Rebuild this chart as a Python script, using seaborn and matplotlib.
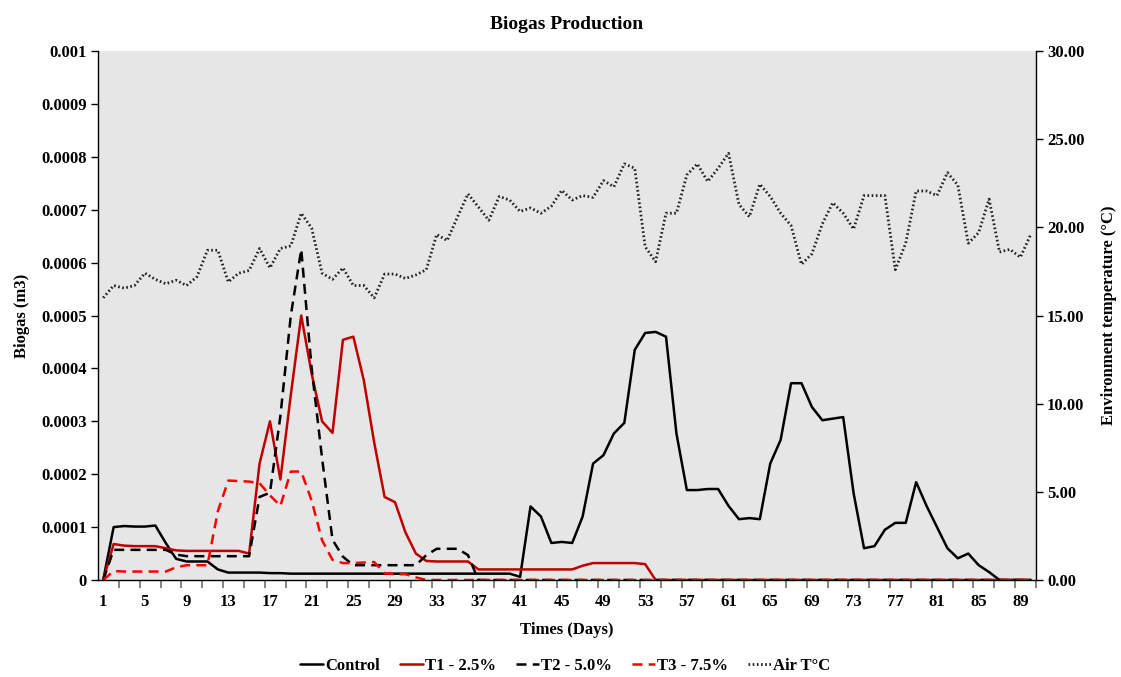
# Biogas production vs air temperature, Excel-style chart
import numpy as np
import pandas as pd
import matplotlib
matplotlib.use("Agg")
import matplotlib.pyplot as plt
from matplotlib.ticker import FixedLocator
from matplotlib.lines import Line2D
import seaborn as sns

days = list(range(1, 91))

# biogas values in units of 1e-4 m3
control = [0, 1.00, 1.02, 1.01, 1.01, 1.03, 0.70, 0.40, 0.35, 0.35,
           0.35, 0.20, 0.14, 0.14, 0.14, 0.14, 0.13, 0.13, 0.12, 0.12,
           0.12, 0.12, 0.12, 0.12, 0.12, 0.12, 0.12, 0.12, 0.12, 0.12,
           0.12, 0.12, 0.12, 0.12, 0.12, 0.12, 0.12, 0.12, 0.12, 0.12,
           0.06, 1.39, 1.20, 0.70, 0.72, 0.70, 1.20, 2.20, 2.36, 2.77,
           2.97, 4.35, 4.67, 4.69, 4.60, 2.77, 1.70, 1.70, 1.72, 1.72,
           1.40, 1.15, 1.17, 1.15, 2.20, 2.65, 3.72, 3.72, 3.27, 3.02,
           3.05, 3.08, 1.64, 0.60, 0.64, 0.95, 1.08, 1.08, 1.85, 1.40,
           1.00, 0.60, 0.41, 0.50, 0.28, 0.15, 0, 0, 0, 0]
t1 = [0, 0.68, 0.65, 0.64, 0.64, 0.64, 0.60, 0.56, 0.55, 0.55,
      0.55, 0.55, 0.55, 0.55, 0.50, 2.20, 3.00, 1.90, 3.50, 5.00,
      3.90, 3.00, 2.78, 4.54, 4.60, 3.78, 2.60, 1.57, 1.47, 0.90,
      0.50, 0.36, 0.35, 0.35, 0.35, 0.35, 0.20, 0.20, 0.20, 0.20,
      0.20, 0.20, 0.20, 0.20, 0.20, 0.20, 0.27, 0.32, 0.32, 0.32,
      0.32, 0.32, 0.30] + [0] * 37
t2 = [0, 0.57, 0.57, 0.57, 0.57, 0.57, 0.57, 0.48, 0.45, 0.45,
      0.45, 0.45, 0.45, 0.45, 0.45, 1.57, 1.65, 3.10, 5.00, 6.25,
      4.00, 2.30, 0.76, 0.44, 0.28, 0.28, 0.28, 0.28, 0.28, 0.28,
      0.28, 0.47, 0.59, 0.59, 0.59, 0.47] + [0] * 54
t3 = [0, 0.17, 0.16, 0.16, 0.16, 0.16, 0.16, 0.24, 0.28, 0.28,
      0.28, 1.30, 1.88, 1.87, 1.86, 1.83, 1.60, 1.40, 2.05, 2.05,
      1.50, 0.75, 0.38, 0.32, 0.32, 0.33, 0.34, 0.13, 0.11, 0.11,
      0.05] + [0] * 59
air = [16.0, 16.7, 16.55, 16.7, 17.4, 17.05, 16.8, 17.0, 16.7, 17.2,
       18.7, 18.7, 16.9, 17.4, 17.55, 18.8, 17.7, 18.8, 18.95, 20.8,
       19.95, 17.4, 17.05, 17.7, 16.7, 16.7, 16.0, 17.35, 17.35, 17.1,
       17.3, 17.6, 19.6, 19.25, 20.6, 21.9, 21.15, 20.4, 21.75, 21.55,
       20.9, 21.1, 20.8, 21.2, 22.1, 21.55, 21.8, 21.7, 22.65, 22.3,
       23.6, 23.35, 18.9, 18.05, 20.8, 20.8, 22.97, 23.6, 22.6, 23.35,
       24.2, 21.3, 20.6, 22.45, 21.75, 20.8, 20.1, 17.9, 18.5, 20.2,
       21.4, 20.8, 19.9, 21.8, 21.8, 21.8, 17.6, 19.1, 22.06, 22.06,
       21.8, 23.1, 22.4, 19.1, 19.7, 21.6, 18.6, 18.75, 18.3, 19.6]

left_ticks = [0, 0.0001, 0.0002, 0.0003, 0.0004, 0.0005, 0.0006, 0.0007, 0.0008, 0.0009, 0.001]
left_labels = ["0", "0.0001", "0.0002", "0.0003", "0.0004", "0.0005",
               "0.0006", "0.0007", "0.0008", "0.0009", "0.001"]
right_ticks = [0, 5, 10, 15, 20, 25, 30]
right_labels = ["0.00", "5.00", "10.00", "15.00", "20.00", "25.00", "30.00"]
x_labels = list(range(1, 90, 4))

df = pd.DataFrame({"day": days,
                   "Control": np.array(control) * 1e-4,
                   "T1 - 2.5%": np.array(t1) * 1e-4,
                   "T2 - 5.0%": np.array(t2) * 1e-4,
                   "T3 - 7.5%": np.array(t3) * 1e-4,
                   "Air": air})

sns.set_theme(style="ticks")
plt.rcParams["font.family"] = ["Liberation Serif", "DejaVu Serif"]
plt.rcParams["font.weight"] = "bold"
for key in ("text.color", "axes.labelcolor", "xtick.color", "ytick.color"):
    plt.rcParams[key] = "black"

fig = plt.figure(figsize=(11.21, 6.77), dpi=100)
ax = fig.add_axes([98 / 1121, 1 - 580 / 677, (1036 - 98) / 1121, (580 - 51) / 677])
ax.set_facecolor("#E6E6E6")
ax2 = ax.twinx()

styles = [("Control", "black", "-"),
          ("T1 - 2.5%", "#C00000", "-"),
          ("T2 - 5.0%", "black", (0, (4, 2.5))),
          ("T3 - 7.5%", "#FF0000", (0, (4, 2.5)))]
handles = []
for name, col, ls in styles:
    sns.lineplot(data=df, x="day", y=name, ax=ax, color=col, linewidth=1.8,
                 linestyle=ls, legend=False)
    handles.append(Line2D([], [], color=col, lw=1.8, linestyle=ls, label=name))
sns.lineplot(data=df, x="day", y="Air", ax=ax2, color="#222222", linewidth=2.0,
             linestyle=(0, (0.6, 0.9)), legend=False)
handles.append(Line2D([], [], color="#222222", lw=2.0, linestyle=(0, (0.6, 0.9)),
                      label="Air T°C"))

ax.set_xlim(0.5, 90.5)
ax.set_ylim(0, 0.001)
ax2.set_ylim(0, 30)

ax.yaxis.set_major_locator(FixedLocator(left_ticks))
ax.set_yticklabels(left_labels, fontsize=12, fontweight="bold")
ax2.yaxis.set_major_locator(FixedLocator(right_ticks))
ax2.set_yticklabels(right_labels, fontsize=12, fontweight="bold")

# labels every 4 days without marks; marks every 2 days between categories
ax.xaxis.set_major_locator(FixedLocator(x_labels))
ax.set_xticklabels([str(v) for v in x_labels], fontsize=12, fontweight="bold")
ax.tick_params(axis="x", which="major", length=0, pad=10)
ax.set_xticks(list(np.arange(2.5, 91, 2)), minor=True)
ax.tick_params(axis="x", which="minor", bottom=True, length=6, width=1.2,
               color="#707070", direction="out")
ax.tick_params(axis="y", length=5, color="black", width=1, left=True, pad=3)
ax2.tick_params(axis="y", length=5, color="black", width=1, right=True, pad=3)

for a in (ax, ax2):
    a.spines["top"].set_visible(False)
    for s in ("left", "right", "bottom"):
        a.spines[s].set_color("black")
        a.spines[s].set_linewidth(1.0)
ax.spines["right"].set_visible(False)
ax2.spines["left"].set_visible(False)
ax2.spines["bottom"].set_visible(False)

ax.set_xlabel("Times (Days)", fontsize=12, fontweight="bold", labelpad=9)
ax.set_ylabel("Biogas (m3)", fontsize=12, fontweight="bold", labelpad=8)
ax2.set_ylabel("Environment temperature (°C)", fontsize=12, fontweight="bold", labelpad=12)
ax.set_title("Biogas Production", fontsize=14, fontweight="bold", pad=16)

fig.legend(handles=handles, loc="lower center", bbox_to_anchor=(0.504, -0.018),
           ncol=5, frameon=False, handlelength=1.4, handletextpad=0.1,
           columnspacing=1.2, prop={"size": 12, "weight": "bold"})

fig.savefig("out.png", dpi=100)
plt.close(fig)
